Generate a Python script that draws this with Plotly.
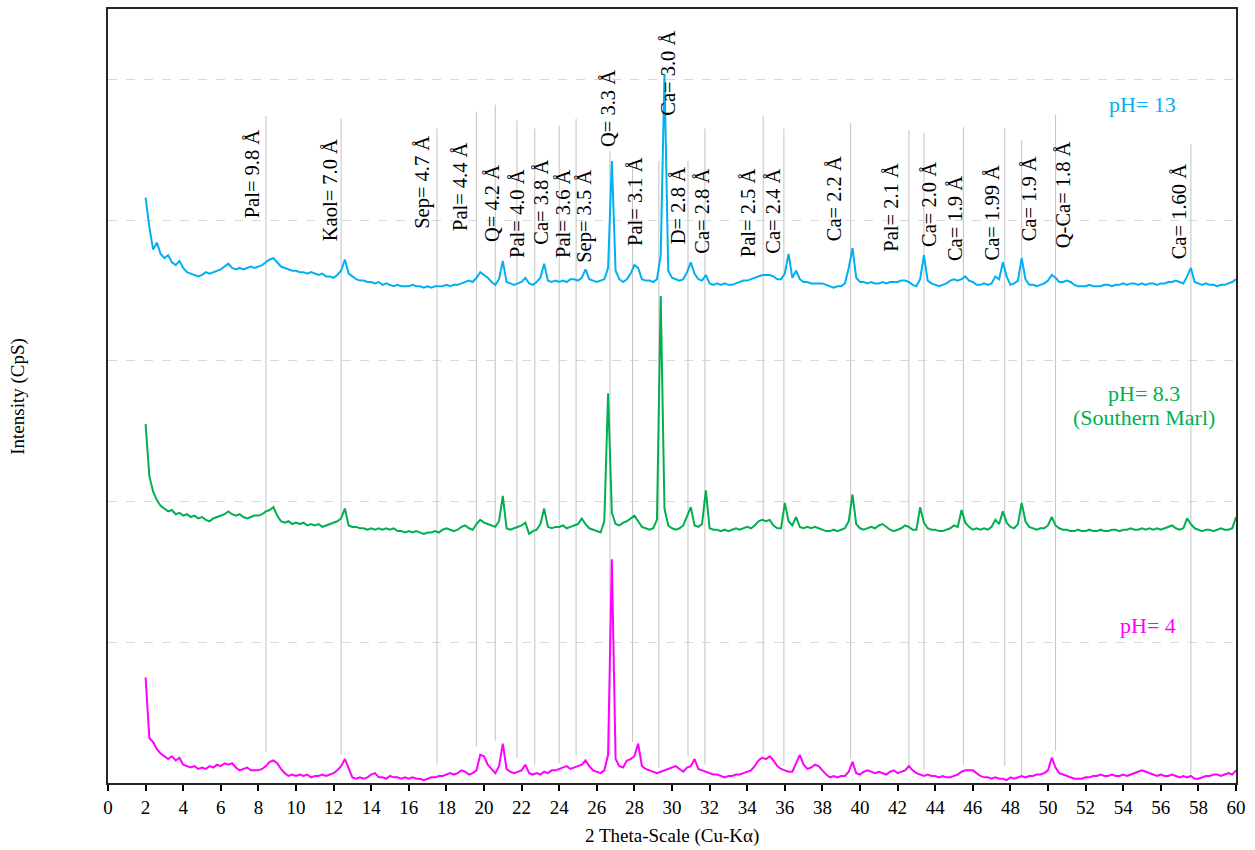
import plotly.graph_objects as go

# ---------------- data ----------------
# 2-theta scan positions (degrees, Cu-Ka)
theta = [
    2.0, 2.2, 2.4, 2.6, 2.8, 3.0, 3.2, 3.4, 3.6, 3.8,
    4.0, 4.2, 4.4, 4.6, 4.8, 5.0, 5.2, 5.4, 5.6, 5.8,
    6.0, 6.2, 6.4, 6.6, 6.8, 7.0, 7.2, 7.4, 7.6, 7.8,
    8.0, 8.2, 8.4, 8.6, 8.8, 9.0, 9.2, 9.4, 9.6, 9.8,
    10.0, 10.2, 10.4, 10.6, 10.8, 11.0, 11.2, 11.4, 11.6, 11.8,
    12.0, 12.2, 12.4, 12.6, 12.8, 13.0, 13.2, 13.4, 13.6, 13.8,
    14.0, 14.2, 14.4, 14.6, 14.8, 15.0, 15.2, 15.4, 15.6, 15.8,
    16.0, 16.2, 16.4, 16.6, 16.8, 17.0, 17.2, 17.4, 17.6, 17.8,
    18.0, 18.2, 18.4, 18.6, 18.8, 19.0, 19.2, 19.4, 19.6, 19.8,
    20.0, 20.2, 20.4, 20.6, 20.8, 21.0, 21.2, 21.4, 21.6, 21.8,
    22.0, 22.2, 22.4, 22.6, 22.8, 23.0, 23.2, 23.4, 23.6, 23.8,
    24.0, 24.2, 24.4, 24.6, 24.8, 25.0, 25.2, 25.4, 25.6, 25.8,
    26.0, 26.2, 26.4, 26.6, 26.8, 27.0, 27.2, 27.4, 27.6, 27.8,
    28.0, 28.2, 28.4, 28.6, 28.8, 29.0, 29.2, 29.4, 29.6, 29.8,
    30.0, 30.2, 30.4, 30.6, 30.8, 31.0, 31.2, 31.4, 31.6, 31.8,
    32.0, 32.2, 32.4, 32.6, 32.8, 33.0, 33.2, 33.4, 33.6, 33.8,
    34.0, 34.2, 34.4, 34.6, 34.8, 35.0, 35.2, 35.4, 35.6, 35.8,
    36.0, 36.2, 36.4, 36.6, 36.8, 37.0, 37.2, 37.4, 37.6, 37.8,
    38.0, 38.2, 38.4, 38.6, 38.8, 39.0, 39.2, 39.4, 39.6, 39.8,
    40.0, 40.2, 40.4, 40.6, 40.8, 41.0, 41.2, 41.4, 41.6, 41.8,
    42.0, 42.2, 42.4, 42.6, 42.8, 43.0, 43.2, 43.4, 43.6, 43.8,
    44.0, 44.2, 44.4, 44.6, 44.8, 45.0, 45.2, 45.4, 45.6, 45.8,
    46.0, 46.2, 46.4, 46.6, 46.8, 47.0, 47.2, 47.4, 47.6, 47.8,
    48.0, 48.2, 48.4, 48.6, 48.8, 49.0, 49.2, 49.4, 49.6, 49.8,
    50.0, 50.2, 50.4, 50.6, 50.8, 51.0, 51.2, 51.4, 51.6, 51.8,
    52.0, 52.2, 52.4, 52.6, 52.8, 53.0, 53.2, 53.4, 53.6, 53.8,
    54.0, 54.2, 54.4, 54.6, 54.8, 55.0, 55.2, 55.4, 55.6, 55.8,
    56.0, 56.2, 56.4, 56.6, 56.8, 57.0, 57.2, 57.4, 57.6, 57.8,
    58.0, 58.2, 58.4, 58.6, 58.8, 59.0, 59.2, 59.4, 59.6, 59.8,
    60.0,
]

# intensities (stacked, arbitrary offset units; one dashed grid step = 1)
ph4 = [
    0.75, 0.32, 0.29, 0.24, 0.21, 0.19, 0.17, 0.19, 0.16, 0.18,
    0.13, 0.12, 0.11, 0.12, 0.10, 0.11, 0.10, 0.12, 0.11, 0.13,
    0.12, 0.14, 0.13, 0.14, 0.11, 0.09, 0.10, 0.11, 0.09, 0.09,
    0.09, 0.10, 0.12, 0.15, 0.16, 0.14, 0.10, 0.07, 0.05, 0.06,
    0.05, 0.06, 0.05, 0.06, 0.04, 0.05, 0.05, 0.06, 0.05, 0.06,
    0.07, 0.09, 0.12, 0.17, 0.10, 0.04, 0.03, 0.04, 0.03, 0.04,
    0.06, 0.07, 0.04, 0.04, 0.03, 0.05, 0.04, 0.04, 0.03, 0.04,
    0.03, 0.04, 0.03, 0.03, 0.02, 0.03, 0.04, 0.04, 0.05, 0.05,
    0.06, 0.07, 0.06, 0.07, 0.09, 0.08, 0.06, 0.07, 0.09, 0.20,
    0.19, 0.13, 0.10, 0.07, 0.12, 0.28, 0.10, 0.08, 0.07, 0.08,
    0.09, 0.13, 0.07, 0.06, 0.07, 0.06, 0.08, 0.07, 0.09, 0.09,
    0.10, 0.11, 0.12, 0.10, 0.11, 0.12, 0.13, 0.16, 0.12, 0.09,
    0.08, 0.07, 0.09, 0.20, 1.59, 0.17, 0.12, 0.11, 0.16, 0.17,
    0.19, 0.28, 0.12, 0.10, 0.09, 0.08, 0.07, 0.08, 0.09, 0.10,
    0.11, 0.12, 0.10, 0.08, 0.11, 0.12, 0.17, 0.10, 0.09, 0.08,
    0.07, 0.06, 0.06, 0.05, 0.04, 0.05, 0.05, 0.06, 0.06, 0.07,
    0.08, 0.09, 0.12, 0.16, 0.18, 0.17, 0.19, 0.16, 0.12, 0.10,
    0.09, 0.08, 0.08, 0.14, 0.20, 0.13, 0.10, 0.11, 0.13, 0.12,
    0.09, 0.06, 0.04, 0.05, 0.04, 0.05, 0.05, 0.08, 0.15, 0.07,
    0.06, 0.08, 0.09, 0.08, 0.07, 0.08, 0.07, 0.06, 0.08, 0.09,
    0.07, 0.08, 0.09, 0.12, 0.09, 0.07, 0.06, 0.05, 0.06, 0.05,
    0.05, 0.04, 0.05, 0.04, 0.04, 0.05, 0.06, 0.08, 0.09, 0.09,
    0.09, 0.07, 0.05, 0.04, 0.04, 0.03, 0.04, 0.03, 0.03, 0.02,
    0.04, 0.03, 0.04, 0.05, 0.04, 0.05, 0.05, 0.06, 0.06, 0.07,
    0.09, 0.18, 0.11, 0.07, 0.06, 0.05, 0.04, 0.03, 0.03, 0.03,
    0.04, 0.04, 0.05, 0.05, 0.06, 0.05, 0.05, 0.06, 0.05, 0.05,
    0.06, 0.05, 0.06, 0.07, 0.08, 0.09, 0.08, 0.07, 0.06, 0.05,
    0.06, 0.05, 0.05, 0.06, 0.05, 0.04, 0.05, 0.04, 0.05, 0.03,
    0.03, 0.04, 0.05, 0.05, 0.06, 0.06, 0.05, 0.06, 0.07, 0.06,
    0.09,
]

ph83 = [
    2.55, 2.18, 2.07, 2.01, 1.97, 1.95, 1.93, 1.94, 1.91, 1.92,
    1.90, 1.91, 1.89, 1.90, 1.88, 1.89, 1.87, 1.86, 1.88, 1.89,
    1.90, 1.91, 1.93, 1.91, 1.90, 1.91, 1.89, 1.88, 1.89, 1.90,
    1.90, 1.91, 1.93, 1.94, 1.96, 1.90, 1.86, 1.85, 1.86, 1.84,
    1.85, 1.84, 1.85, 1.83, 1.84, 1.83, 1.84, 1.82, 1.83, 1.84,
    1.85, 1.86, 1.88, 1.95, 1.83, 1.82, 1.82, 1.81, 1.81, 1.80,
    1.81, 1.80, 1.81, 1.80, 1.81, 1.80, 1.81, 1.79, 1.79, 1.78,
    1.79, 1.78, 1.79, 1.78, 1.77, 1.78, 1.78, 1.79, 1.78, 1.80,
    1.81, 1.80, 1.79, 1.80, 1.82, 1.83, 1.81, 1.80, 1.84, 1.87,
    1.85, 1.84, 1.83, 1.82, 1.86, 2.04, 1.81, 1.80, 1.81, 1.82,
    1.83, 1.85, 1.77, 1.79, 1.80, 1.84, 1.95, 1.82, 1.81, 1.82,
    1.82, 1.83, 1.81, 1.82, 1.83, 1.84, 1.88, 1.84, 1.81, 1.80,
    1.79, 1.78, 1.86, 2.77, 1.92, 1.84, 1.83, 1.85, 1.86, 1.88,
    1.90, 1.86, 1.82, 1.81, 1.80, 1.81, 1.87, 3.46, 1.95, 1.83,
    1.81, 1.80, 1.81, 1.83, 1.90, 1.96, 1.83, 1.82, 1.84, 2.08,
    1.81, 1.80, 1.80, 1.79, 1.80, 1.79, 1.80, 1.81, 1.80, 1.81,
    1.82, 1.81, 1.83, 1.86, 1.87, 1.86, 1.87, 1.83, 1.81, 1.81,
    1.99, 1.86, 1.83, 1.89, 1.82, 1.81, 1.82, 1.81, 1.82, 1.81,
    1.80, 1.79, 1.79, 1.80, 1.79, 1.80, 1.81, 1.86, 2.05, 1.84,
    1.81, 1.80, 1.81, 1.82, 1.81, 1.83, 1.84, 1.82, 1.80, 1.79,
    1.80, 1.81, 1.83, 1.82, 1.80, 1.80, 1.96, 1.85, 1.81, 1.80,
    1.80, 1.79, 1.79, 1.80, 1.81, 1.83, 1.82, 1.94, 1.85, 1.82,
    1.80, 1.81, 1.80, 1.81, 1.80, 1.82, 1.87, 1.84, 1.93, 1.85,
    1.82, 1.81, 1.84, 1.99, 1.86, 1.82, 1.81, 1.80, 1.81, 1.81,
    1.83, 1.89, 1.83, 1.81, 1.80, 1.80, 1.79, 1.79, 1.80, 1.79,
    1.79, 1.80, 1.79, 1.79, 1.80, 1.79, 1.79, 1.80, 1.80, 1.79,
    1.80, 1.80, 1.81, 1.80, 1.80, 1.81, 1.80, 1.81, 1.80, 1.81,
    1.80, 1.81, 1.82, 1.83, 1.81, 1.80, 1.81, 1.88, 1.84, 1.81,
    1.80, 1.79, 1.80, 1.80, 1.79, 1.80, 1.81, 1.80, 1.80, 1.81,
    1.89,
]

ph13 = [
    4.16, 3.95, 3.79, 3.84, 3.76, 3.73, 3.75, 3.70, 3.68, 3.71,
    3.66, 3.63, 3.62, 3.61, 3.60, 3.61, 3.63, 3.62, 3.63, 3.64,
    3.65, 3.67, 3.69, 3.66, 3.65, 3.66, 3.65, 3.66, 3.67, 3.66,
    3.67, 3.68, 3.70, 3.72, 3.73, 3.70, 3.67, 3.66, 3.65, 3.64,
    3.64, 3.63, 3.63, 3.62, 3.63, 3.62, 3.61, 3.62, 3.60, 3.60,
    3.59, 3.61, 3.64, 3.72, 3.62, 3.60, 3.58, 3.57, 3.57, 3.56,
    3.56, 3.55, 3.56, 3.54, 3.55, 3.54, 3.53, 3.54, 3.53, 3.53,
    3.53, 3.54, 3.53, 3.53, 3.52, 3.53, 3.52, 3.53, 3.53, 3.53,
    3.54, 3.53, 3.54, 3.54, 3.55, 3.56, 3.57, 3.56, 3.59, 3.63,
    3.61, 3.59, 3.56, 3.54, 3.58, 3.71, 3.56, 3.55, 3.54, 3.55,
    3.56, 3.59, 3.55, 3.54, 3.56, 3.59, 3.69, 3.57, 3.56, 3.57,
    3.56, 3.57, 3.56, 3.58, 3.58, 3.57, 3.59, 3.65, 3.58, 3.57,
    3.56, 3.57, 3.58, 3.66, 4.42, 3.64, 3.58, 3.56, 3.58, 3.62,
    3.68, 3.66, 3.58, 3.57, 3.57, 3.56, 3.58, 3.75, 5.04, 3.64,
    3.59, 3.58, 3.57, 3.58, 3.63, 3.70, 3.62, 3.58, 3.57, 3.61,
    3.55, 3.54, 3.55, 3.54, 3.55, 3.54, 3.54, 3.55, 3.56, 3.57,
    3.57, 3.58, 3.59, 3.60, 3.61, 3.61, 3.61, 3.60, 3.58, 3.58,
    3.62, 3.76, 3.59, 3.64, 3.58, 3.56, 3.56, 3.55, 3.55, 3.55,
    3.55, 3.54, 3.53, 3.52, 3.53, 3.53, 3.55, 3.66, 3.80, 3.59,
    3.56, 3.56, 3.55, 3.56, 3.55, 3.55, 3.56, 3.55, 3.56, 3.56,
    3.56, 3.57, 3.57, 3.56, 3.54, 3.53, 3.58, 3.75, 3.57, 3.55,
    3.54, 3.53, 3.54, 3.55, 3.57, 3.58, 3.57, 3.58, 3.60, 3.57,
    3.56, 3.54, 3.54, 3.55, 3.54, 3.55, 3.60, 3.58, 3.70, 3.60,
    3.54, 3.55, 3.57, 3.73, 3.58, 3.54, 3.54, 3.53, 3.54, 3.55,
    3.57, 3.61, 3.59, 3.56, 3.56, 3.57, 3.56, 3.54, 3.53, 3.53,
    3.53, 3.54, 3.53, 3.53, 3.53, 3.54, 3.54, 3.53, 3.54, 3.54,
    3.55, 3.54, 3.55, 3.55, 3.54, 3.55, 3.54, 3.55, 3.55, 3.54,
    3.55, 3.55, 3.56, 3.56, 3.57, 3.56, 3.55, 3.60, 3.66, 3.56,
    3.55, 3.54, 3.55, 3.54, 3.54, 3.53, 3.54, 3.54, 3.55, 3.56,
    3.58,
]

# identified reflections: marker position (2-theta) and label
peak_theta = [8.4, 12.4, 17.5, 19.6, 20.6, 21.75, 22.7, 24.0, 24.9, 26.7,
              27.9, 29.3, 30.85, 31.75, 34.85, 35.95, 39.5, 42.6, 43.4, 45.5,
              47.7, 48.6, 50.4, 57.6]
peak_labels = ["Pal= 9.8 Å", "Kaol= 7.0 Å", "Sep= 4.7 Å", "Pal= 4.4 Å", "Q= 4.2 Å",
               "Pal= 4.0 Å", "Ca= 3.8 Å", "Pal= 3.6 Å", "Sep= 3.5 Å", "Q= 3.3 Å",
               "Pal= 3.1 Å", "Ca= 3.0 Å", "D= 2.8 Å", "Ca= 2.8 Å", "Pal= 2.5 Å",
               "Ca= 2.4 Å", "Ca= 2.2 Å", "Pal= 2.1 Å", "Ca= 2.0 Å", "Ca= 1.9 Å",
               "Ca= 1.99 Å", "Ca= 1.9 Å", "Q-Ca= 1.8 Å", "Ca= 1.60 Å"]

series_names = ["pH= 4", "pH= 8.3 (Southern Marl)", "pH= 13"]

# ---------------- layout helpers (placement only) ----------------
marker_top = [4.74, 4.72, 4.65, 4.77, 4.82, 4.71, 4.65, 4.67, 4.72, 4.49,
              4.42, 4.42, 4.42, 4.65, 4.74, 4.65, 4.69, 4.64, 4.62, 4.66,
              4.65, 4.57, 4.75, 4.54]
marker_bottom = [0.22, 0.20, 0.13, 0.26, 0.30, 0.18, 0.13, 0.14, 0.19, 0.20,
                 0.29, 0.11, 0.19, 0.13, 0.21, 0.12, 0.17, 0.12, 0.10, 0.13,
                 0.12, 0.05, 0.23, 0.06]
label_x = [7.64, 11.79, 16.69, 18.76, 20.42, 21.75, 23.03, 24.2, 25.37, 26.6,
           28.04, 29.79, 30.33, 31.6, 34.05, 35.38, 38.63, 41.66, 43.64, 45.02,
           47.04, 49.01, 50.77, 56.95]
label_y = [4.33, 4.21, 4.27, 4.24, 4.12, 4.05, 4.13, 4.05, 4.03, 4.79,
           4.13, 5.04, 4.10, 4.06, 4.05, 4.06, 4.15, 4.09, 4.11, 4.01,
           4.05, 4.15, 4.18, 4.06]

FONT = "Liberation Serif, Times New Roman, serif"
C_BLUE = "#00b0f0"
C_GREEN = "#00b050"
C_MAG = "#ff00ff"

fig = go.Figure()

# reference marker lines (behind the patterns)
lx, ly = [], []
for t, top, bot in zip(peak_theta, marker_top, marker_bottom):
    lx += [t, t, None]
    ly += [bot, top, None]
fig.add_trace(go.Scatter(x=lx, y=ly, mode="lines", line=dict(color="#c8c8c8", width=1.1),
                         hoverinfo="skip", showlegend=False))

for name, vals, col in [(series_names[0], ph4, C_MAG),
                        (series_names[1], ph83, C_GREEN),
                        (series_names[2], ph13, C_BLUE)]:
    fig.add_trace(go.Scatter(x=theta, y=vals, mode="lines", name=name,
                             line=dict(color=col, width=2), showlegend=False))

annotations = []
for t, lab, y in zip(label_x, peak_labels, label_y):
    annotations.append(dict(x=t, y=y, xref="x", yref="y", text=lab, showarrow=False,
                            textangle=-90, xanchor="center", yanchor="middle",
                            font=dict(family=FONT, size=20.5, color="#000000")))

annotations += [
    dict(x=55.03, y=4.82, xref="x", yref="y", text="pH= 13", showarrow=False,
         font=dict(family=FONT, size=22, color=C_BLUE)),
    dict(x=55.09, y=2.77, xref="x", yref="y", text="pH= 8.3", showarrow=False,
         font=dict(family=FONT, size=22, color=C_GREEN)),
    dict(x=55.09, y=2.60, xref="x", yref="y", text="(Southern Marl)", showarrow=False,
         font=dict(family=FONT, size=22, color=C_GREEN)),
    dict(x=55.3, y=1.12, xref="x", yref="y", text="pH= 4", showarrow=False,
         font=dict(family=FONT, size=22, color=C_MAG)),
    dict(x=-0.080, y=0.5, xref="paper", yref="paper", text="Intensity (CpS)", showarrow=False,
         textangle=-90, xanchor="center", yanchor="middle",
         font=dict(family=FONT, size=19, color="#000000")),
    dict(x=0.5, y=-0.0685, xref="paper", yref="paper", text="2 Theta-Scale (Cu-Kα)",
         showarrow=False, xanchor="center", yanchor="middle",
         font=dict(family=FONT, size=19, color="#000000")),
]

fig.update_layout(
    width=1255, height=850,
    margin=dict(l=108, r=19, t=9, b=67),
    paper_bgcolor="white", plot_bgcolor="white",
    font=dict(family=FONT, size=19, color="#000000"),
    annotations=annotations,
    showlegend=False,
)
fig.update_xaxes(
    range=[0, 60], tickmode="array", tickvals=list(range(0, 61, 2)),
    ticks="outside", ticklen=6, tickwidth=1.5, tickcolor="#000000",
    showline=True, linecolor="#262626", linewidth=2, mirror=True,
    showgrid=False, zeroline=False, automargin=False,
    tickfont=dict(family=FONT, size=19),
)
fig.update_yaxes(
    range=[0, 5.5], tickmode="array", tickvals=[1, 2, 3, 4, 5],
    showticklabels=False, ticks="", automargin=False,
    showline=True, linecolor="#262626", linewidth=2, mirror=True,
    showgrid=True, gridcolor="#d9d9d9", griddash="dash", gridwidth=1,
    zeroline=False,
)

fig.write_html("out.html", config={"displayModeBar": False})
